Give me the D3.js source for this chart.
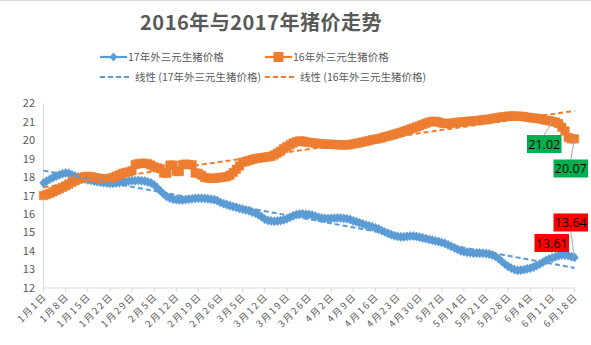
<!DOCTYPE html>
<html><head><meta charset="utf-8">
<script src="https://cdn.jsdelivr.net/npm/d3@7"></script>
<style>
html,body{margin:0;padding:0;background:#fff;}
svg{display:block;font-family:"Noto Sans CJK SC","Noto Sans",sans-serif;}
</style></head>
<body>
<svg id="c" width="591" height="345"></svg>
<script>
const title = "2016年与2017年猪价走势";
const seriesNames = ["17年外三元生猪价格", "16年外三元生猪价格"];
const trendNames = ["线性 (17年外三元生猪价格)", "线性 (16年外三元生猪价格)"];
const startDate = "2017-01-01";
const xTickLabels = ["1月1日","1月8日","1月15日","1月22日","1月29日","2月5日","2月12日","2月19日","2月26日","3月5日","3月12日","3月19日","3月26日","4月2日","4月9日","4月16日","4月23日","4月30日","5月7日","5月14日","5月21日","5月28日","6月4日","6月11日","6月18日"];
const yTicks = [12,13,14,15,16,17,18,19,20,21,22];

// daily values, 1/1 .. 6/18
const price17 = [
 17.68,17.78,17.88,17.97,18.05,18.12,18.18,
 18.22,18.2,18.12,18.05,18.0,17.95,17.9,
 17.85,17.82,17.78,17.75,17.73,17.7,17.68,
 17.66,17.66,17.68,17.7,17.72,17.75,17.78,
 17.8,17.8,17.82,17.8,17.78,17.74,17.68,
 17.58,17.42,17.25,17.08,16.95,16.86,16.8,
 16.78,16.76,16.76,16.78,16.8,16.82,16.84,
 16.85,16.85,16.84,16.82,16.8,16.78,16.72,
 16.62,16.56,16.5,16.45,16.4,16.36,16.3,
 16.26,16.22,16.18,16.1,16.05,15.95,15.85,
 15.72,15.65,15.62,15.6,15.62,15.64,15.68,
 15.74,15.82,15.9,15.96,15.99,16.0,15.98,
 15.96,15.94,15.88,15.82,15.78,15.76,15.75,
 15.76,15.77,15.78,15.78,15.76,15.74,15.7,
 15.62,15.58,15.52,15.46,15.4,15.35,15.3,
 15.25,15.18,15.1,15.02,14.95,14.88,14.82,
 14.78,14.76,14.76,14.78,14.8,14.8,14.78,
 14.74,14.7,14.66,14.62,14.58,14.54,14.5,
 14.45,14.4,14.32,14.24,14.16,14.08,14.0,
 13.95,13.92,13.9,13.88,13.88,13.87,13.87,
 13.85,13.82,13.78,13.7,13.58,13.42,13.28,
 13.16,13.06,12.98,12.94,12.95,12.98,13.02,
 13.06,13.12,13.2,13.28,13.38,13.48,13.56,
 13.61,13.68,13.74,13.77,13.77,13.74,13.68,
 13.64
];
const price16 = [
 17.0,17.05,17.12,17.2,17.28,17.36,17.44,
 17.52,17.62,17.72,17.8,17.88,17.95,18.02,
 18.04,18.02,17.98,17.95,17.92,17.9,17.9,
 17.93,17.98,18.05,18.12,18.2,18.24,18.28,
 18.35,18.68,18.72,18.75,18.75,18.72,18.65,
 18.55,18.5,18.45,18.22,18.2,18.65,18.65,
 18.3,18.3,18.68,18.7,18.68,18.66,18.22,
 18.2,18.1,17.98,17.95,17.93,17.93,17.95,
 17.98,18.0,18.02,18.1,18.25,18.42,18.6,
 18.8,18.85,18.9,18.95,19.0,19.02,19.05,
 19.07,19.1,19.12,19.2,19.3,19.4,19.55,
 19.65,19.75,19.85,19.92,19.96,19.95,19.9,
 19.88,19.86,19.84,19.82,19.8,19.79,19.78,
 19.78,19.76,19.75,19.74,19.74,19.74,19.76,
 19.8,19.83,19.86,19.9,19.94,19.98,20.02,
 20.05,20.08,20.12,20.18,20.22,20.27,20.32,
 20.37,20.42,20.48,20.54,20.6,20.66,20.72,
 20.78,20.85,20.92,20.98,21.02,21.02,20.98,
 20.93,20.9,20.9,20.92,20.95,20.97,20.98,
 21.0,21.02,21.03,21.05,21.06,21.08,21.1,
 21.12,21.14,21.17,21.2,21.23,21.26,21.28,
 21.3,21.31,21.31,21.3,21.3,21.28,21.25,
 21.22,21.2,21.18,21.16,21.12,21.08,21.05,
 21.02,20.98,20.9,20.7,20.5,20.15,20.07,
 20.07
];
// labelled points: [series index, day index]
const labelled = [[1,161],[1,168],[0,161],[0,168]];

const colors = ["#5B9BD5", "#ED7D31"];
const svg = d3.select("#c");
const textColor = "#595959";

const t0 = d3.timeParse("%Y-%m-%d")(startDate);
const dayDate = i => d3.timeDay.offset(t0, i);
const nDays = price17.length;

const x = d3.scaleTime().domain([t0, dayDate(nDays - 1)]).range([43.5, 574.5]);
const y = d3.scaleLinear().domain([12, 22]).range([287.7, 103.3]);

// top border
svg.append("line").attr("x1",0).attr("x2",591).attr("y1",0.5).attr("y2",0.5).attr("stroke","#d9d9d9");

// title
svg.append("text").attr("x", 261).attr("y", 30).attr("text-anchor","middle")
  .attr("font-size", 20).attr("font-weight","bold").attr("fill", textColor)
  .attr("letter-spacing", 0.5).text(title);

// axes
svg.append("line").attr("x1",43.5).attr("x2",43.5).attr("y1",y(22)).attr("y2",y(12)).attr("stroke","#d9d9d9");
svg.append("line").attr("x1",43.5).attr("x2",575).attr("y1",288).attr("y2",288).attr("stroke","#d9d9d9");

yTicks.forEach(v => {
  svg.append("text").attr("x", 35).attr("y", y(v) + 4).attr("text-anchor","end")
    .attr("font-size", 11).attr("fill", textColor).text(v);
});

xTickLabels.forEach((lab, i) => {
  const xx = x(dayDate(i * 7));
  svg.append("line").attr("x1", xx).attr("x2", xx).attr("y1", 288).attr("y2", 292).attr("stroke","#d9d9d9");
  svg.append("text").attr("transform", `translate(${xx + 4},${297}) rotate(-45)`)
    .attr("text-anchor","end").attr("font-size", 9.5).attr("letter-spacing", 1.8)
    .attr("fill", textColor).text(lab);
});

const series = [price17, price16];
const line = d3.line().x((d, i) => x(dayDate(i))).y(d => y(d));

const diamond = "M0,-4.6L3.8,0L0,4.6L-3.8,0Z";
const square = "M-4.2,-4.2H4.2V4.2H-4.2Z";

series.forEach((data, s) => {
  svg.append("path").attr("d", line(data)).attr("fill","none").attr("stroke", colors[s]).attr("stroke-width", 2.25);
  svg.append("g").selectAll("path").data(data).join("path")
    .attr("transform", (d, i) => `translate(${x(dayDate(i))},${y(d)})`)
    .attr("d", s === 0 ? diamond : square)
    .attr("fill", colors[s]).attr("stroke", colors[s]).attr("stroke-width", 0.6);
});

// linear trendlines (least squares over day index)
series.forEach((data, s) => {
  const n = data.length;
  const mx = d3.mean(data, (d, i) => i), my = d3.mean(data);
  let num = 0, den = 0;
  data.forEach((d, i) => { num += (i - mx) * (d - my); den += (i - mx) * (i - mx); });
  const b = num / den, a = my - b * mx;
  svg.append("line")
    .attr("x1", x(dayDate(0))).attr("y1", y(a))
    .attr("x2", x(dayDate(n - 1))).attr("y2", y(a + b * (n - 1)))
    .attr("stroke", colors[s]).attr("stroke-width", 2).attr("stroke-dasharray", "5,3");
});

// data labels
const boxes = [
  {bx: 527, by: 135, fill: "#00B050"},
  {bx: 553.5, by: 159.5, fill: "#00B050"},
  {bx: 534.5, by: 234, fill: "#FF0000"},
  {bx: 553.5, by: 213.5, fill: "#FF0000"}
];
const bw = 34.5, bh = 18;
labelled.forEach(([s, i], k) => {
  const v = series[s][i];
  const px = x(dayDate(i)), py = y(v);
  const b = boxes[k];
  const ax = b.bx + bw / 2, ay = (py < b.by) ? b.by : b.by + bh;
  svg.append("line").attr("x1", ax).attr("y1", ay).attr("x2", px).attr("y2", py)
    .attr("stroke", "#a6a6a6").attr("stroke-width", 1);
  svg.append("rect").attr("x", b.bx).attr("y", b.by).attr("width", bw).attr("height", bh).attr("fill", b.fill);
  svg.append("text").attr("x", b.bx + bw / 2).attr("y", b.by + 13.5).attr("text-anchor","middle")
    .attr("font-family", "'Open Sans',sans-serif").attr("font-size", 12.5).attr("fill", "#000")
    .text(v.toFixed(2));
});

// legend
const leg = [
  {x: 100, y: 57, s: 0, dash: false, label: seriesNames[0]},
  {x: 265, y: 57, s: 1, dash: false, label: seriesNames[1]},
  {x: 100, y: 77, s: 0, dash: true, label: trendNames[0]},
  {x: 265, y: 77, s: 1, dash: true, label: trendNames[1]}
];
leg.forEach(l => {
  const g = svg.append("g");
  if (l.dash) {
    g.append("line").attr("x1", l.x).attr("x2", l.x + 31).attr("y1", l.y).attr("y2", l.y)
      .attr("stroke", colors[l.s]).attr("stroke-width", 2).attr("stroke-dasharray", "5,3");
    g.append("text").attr("x", l.x + 35).attr("y", l.y + 4).attr("font-size", 10.5).attr("fill", textColor).text(l.label);
  } else {
    g.append("line").attr("x1", l.x).attr("x2", l.x + 27).attr("y1", l.y).attr("y2", l.y)
      .attr("stroke", colors[l.s]).attr("stroke-width", 2.25);
    g.append("path").attr("transform", `translate(${l.x + 13.5},${l.y})`).attr("d", l.s === 0 ? diamond : "M-5,-5H5V5H-5Z")
      .attr("fill", colors[l.s]);
    g.append("text").attr("x", l.x + 28).attr("y", l.y + 4).attr("font-size", 10.5).attr("fill", textColor).text(l.label);
  }
});
</script>
</body></html>
